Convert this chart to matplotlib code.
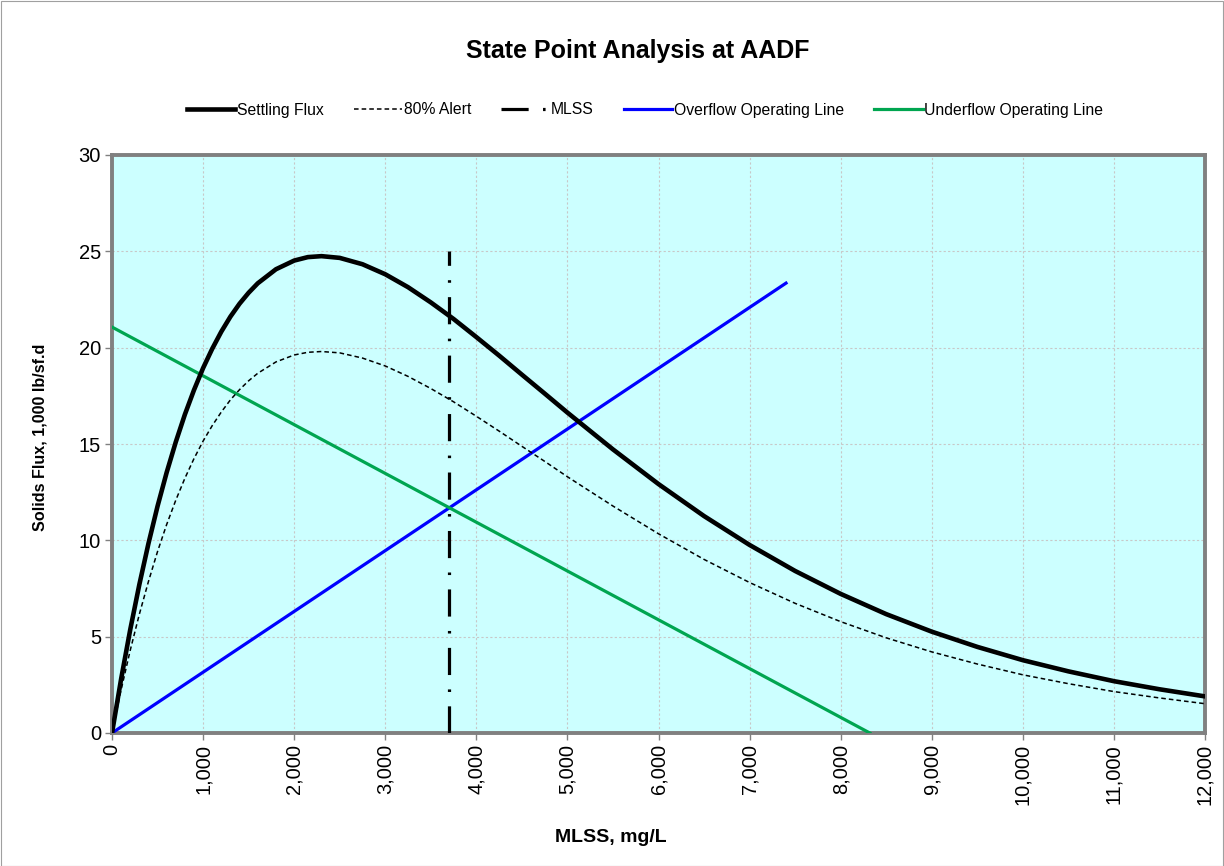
import matplotlib
matplotlib.use("Agg")
import matplotlib.pyplot as plt
from matplotlib.ticker import FuncFormatter, MultipleLocator
from matplotlib.patches import Rectangle

plt.rcParams['font.family'] = ['Liberation Sans', 'DejaVu Sans']

# ---- data ----
mlss_grid = [0, 100, 200, 300, 400, 500, 600, 700, 800, 900, 1000, 1100, 1200, 1300,
             1400, 1500, 1600, 1800, 2000, 2150, 2300, 2500, 2750, 3000, 3250, 3500,
             3750, 4000, 4250, 4500, 4750, 5000, 5500, 6000, 6500, 7000, 7500, 8000,
             8500, 9000, 9500, 10000, 10500, 11000, 11500, 12000]
settling_flux = [0, 2.80, 5.36, 7.70, 9.83, 11.77, 13.52, 15.10, 16.53, 17.80, 18.94,
                 19.94, 20.83, 21.61, 22.28, 22.85, 23.34, 24.07, 24.52, 24.70, 24.75,
                 24.66, 24.33, 23.81, 23.14, 22.35, 21.49, 20.55, 19.59, 18.60, 17.62,
                 16.63, 14.72, 12.92, 11.26, 9.76, 8.41, 7.22, 6.17, 5.26, 4.47, 3.78,
                 3.20, 2.69, 2.27, 1.90]
alert_80 = [0, 2.24, 4.29, 6.16, 7.86, 9.42, 10.82, 12.08, 13.22, 14.24, 15.15,
            15.95, 16.66, 17.29, 17.82, 18.28, 18.67, 19.26, 19.62, 19.76, 19.80,
            19.73, 19.46, 19.05, 18.51, 17.88, 17.19, 16.44, 15.67, 14.88, 14.10,
            13.30, 11.78, 10.34, 9.01, 7.81, 6.73, 5.78, 4.94, 4.21, 3.58, 3.02,
            2.56, 2.15, 1.82, 1.52]
mlss_x = [3700, 3700]
mlss_y = [0, 25]
overflow_x = [0, 7400]
overflow_y = [0, 23.35]
underflow_x = [0, 8320]
underflow_y = [21.07, 0]

title = "State Point Analysis at AADF"
xlabel = "MLSS, mg/L"
ylabel = "Solids Flux, 1,000 lb/sf.d"

W, H = 1224, 866
fig = plt.figure(figsize=(W / 100, H / 100), dpi=100)
fig.patch.set_facecolor('white')
fig.patches.append(Rectangle((0.5 / W, 0.5 / H), 1 - 1.5 / W, 1 - 1.5 / H, transform=fig.transFigure,
                             fill=False, edgecolor='#A0A0A0', linewidth=0.8))

left, right, top, bottom = 112, 1205, 155, 733
ax = fig.add_axes([left / W, (H - bottom) / H, (right - left) / W, (bottom - top) / H])
ax.set_facecolor('#CCFFFF')

ax.plot(mlss_grid, settling_flux, color='black', lw=3.3, label='Settling Flux',
        solid_joinstyle='round', zorder=5)
ax.plot(mlss_grid, alert_80, color='black', lw=1.1, ls=(0, (3, 2)), label='80% Alert', zorder=4)
ax.plot(mlss_x, mlss_y, color='black', lw=2.3, ls=(0, (8.5, 4.5, 0.8, 4.5)), label='MLSS', zorder=6)
ax.plot(overflow_x, overflow_y, color='#0000FF', lw=2.3, label='Overflow Operating Line', zorder=3)
ax.plot(underflow_x, underflow_y, color='#00A550', lw=2.3, label='Underflow Operating Line', zorder=3)

ax.set_xlim(0, 12000)
ax.set_ylim(0, 30)
ax.xaxis.set_major_locator(MultipleLocator(1000))
ax.yaxis.set_major_locator(MultipleLocator(5))
ax.xaxis.set_major_formatter(FuncFormatter(lambda v, p: f"{int(round(v)):,}"))
ax.grid(True, color='#C8C8C8', lw=0.8, ls=(0, (2, 2)))
ax.set_axisbelow(True)
for s in ax.spines.values():
    s.set_color('#808080')
    s.set_linewidth(2.8)
ax.tick_params(axis='both', direction='out', length=5, width=1, color='#808080',
               labelsize=14.5, pad=3)
for lab in ax.get_xticklabels():
    lab.set_rotation(90)

fig.text(638 / W, 1 - 51 / H, title, ha='center', va='center', fontsize=18, fontweight='bold')
fig.text(611 / W, 1 - 838 / H, xlabel, ha='center', va='center', fontsize=14, fontweight='bold')
fig.text(40 / W, 1 - 437 / H, ylabel, ha='center', va='center', rotation=90, fontsize=11.6,
         fontweight='bold')

leg = fig.legend(loc='center', bbox_to_anchor=(645 / W, 1 - 110 / H), ncol=5, frameon=False,
                 fontsize=11.3, handlelength=3.1, handletextpad=0.1, columnspacing=1.9)

fig.savefig('out.png', dpi=100, facecolor='white')
